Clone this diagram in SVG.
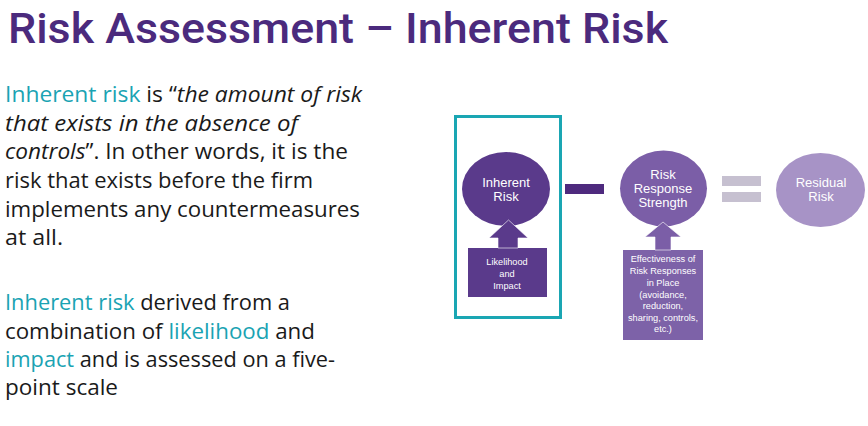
<svg xmlns="http://www.w3.org/2000/svg" width="868" height="426" viewBox="0 0 868 426">
<style>
.title{font-family:"Roboto","Liberation Sans",sans-serif;font-size:43px;font-weight:500;fill:#4b2a7d}
.body{font-family:"Open Sans","Lato","Liberation Sans",sans-serif;font-size:22px;fill:#1a1a1a}
.hl{fill:#1aa3b3}
.it{font-style:italic}
.lbl{font-family:"Liberation Sans",Arial,sans-serif;fill:#ffffff;text-anchor:middle}
.big{font-size:13px}
.small{font-size:9.2px}
.dark{fill:#5a3a8b}
.mid{fill:#7b5ea7}
.arrow{stroke:#ffffff;stroke-width:1;stroke-opacity:0.6}
</style>
<rect width="868" height="426" fill="#ffffff"/>
<text class="title" x="8" y="43" textLength="660" lengthAdjust="spacingAndGlyphs">Risk Assessment – Inherent Risk</text>
<g id="text-para1">
<text class="body" x="5" y="102" textLength="357" lengthAdjust="spacingAndGlyphs"><tspan class="hl">Inherent risk</tspan> is “<tspan class="it">the amount of risk</tspan></text>
<text class="body it" x="5" y="131" textLength="293" lengthAdjust="spacingAndGlyphs">that exists in the absence of</text>
<text class="body" x="5" y="159" textLength="343" lengthAdjust="spacingAndGlyphs"><tspan class="it">controls</tspan>”. In other words, it is the</text>
<text class="body" x="5" y="188" textLength="308" lengthAdjust="spacingAndGlyphs">risk that exists before the firm</text>
<text class="body" x="5" y="217" textLength="355" lengthAdjust="spacingAndGlyphs">implements any countermeasures</text>
<text class="body" x="5" y="245" textLength="58" lengthAdjust="spacingAndGlyphs">at all.</text>
</g>
<g id="text-para2">
<text class="body" x="5" y="310" textLength="285" lengthAdjust="spacingAndGlyphs"><tspan class="hl">Inherent risk</tspan> derived from a</text>
<text class="body" x="5" y="339" textLength="310" lengthAdjust="spacingAndGlyphs">combination of <tspan class="hl">likelihood</tspan> and</text>
<text class="body" x="5" y="367" textLength="330" lengthAdjust="spacingAndGlyphs"><tspan class="hl">impact</tspan> and is assessed on a five-</text>
<text class="body" x="5" y="395" textLength="113" lengthAdjust="spacingAndGlyphs">point scale</text>
</g>
<g id="highlight-frame">
<rect x="455.5" y="116.5" width="105" height="201" fill="none" stroke="#1aa6b3" stroke-width="3"/>
</g>
<g id="inherent-risk">
<ellipse cx="506" cy="189" rx="44" ry="37" class="dark"/>
<text class="lbl big" x="506" y="186.5">Inherent</text>
<text class="lbl big" x="506" y="200.5">Risk</text>
</g>
<g id="likelihood-impact">
<rect x="468" y="248" width="79" height="49" class="dark"/>
<text class="lbl small" x="507" y="265">Likelihood</text>
<text class="lbl small" x="507" y="277">and</text>
<text class="lbl small" x="507" y="289">Impact</text>
</g>
<g id="risk-response-strength">
<ellipse cx="663.5" cy="188.5" rx="43.5" ry="38" class="mid"/>
<text class="lbl big" x="663" y="179">Risk</text>
<text class="lbl big" x="663" y="193">Response</text>
<text class="lbl big" x="663" y="207">Strength</text>
</g>
<g id="effectiveness">
<rect x="623" y="250" width="80" height="90" fill="#7d62a8"/>
<text class="lbl small" x="663" y="262">Effectiveness of</text>
<text class="lbl small" x="663" y="274">Risk Responses</text>
<text class="lbl small" x="663" y="286">in Place</text>
<text class="lbl small" x="663" y="297.5">(avoidance,</text>
<text class="lbl small" x="663" y="309">reduction,</text>
<text class="lbl small" x="663" y="320.5">sharing, controls,</text>
<text class="lbl small" x="663" y="332">etc.)</text>
</g>
<g id="residual-risk">
<ellipse cx="820.5" cy="190" rx="44.5" ry="37" fill="#a793c6"/>
<text class="lbl big" x="821" y="187">Residual</text>
<text class="lbl big" x="821" y="200.5">Risk</text>
</g>
<g id="connectors">
<polygon class="arrow dark" points="508.5,220 528,238 518,238 518,248 498,248 498,238 489,238"/>
<polygon class="arrow" fill="#7b5ea7" points="663,222 681,237 671,237 671,250 655,250 655,237 645,237"/>
<rect x="565" y="184" width="39" height="10" fill="#4e2a7e"/>
<rect x="722" y="176" width="39" height="10" fill="#c6c0d0"/>
<rect x="722" y="192" width="39" height="10" fill="#c6c0d0"/>
</g>
</svg>
